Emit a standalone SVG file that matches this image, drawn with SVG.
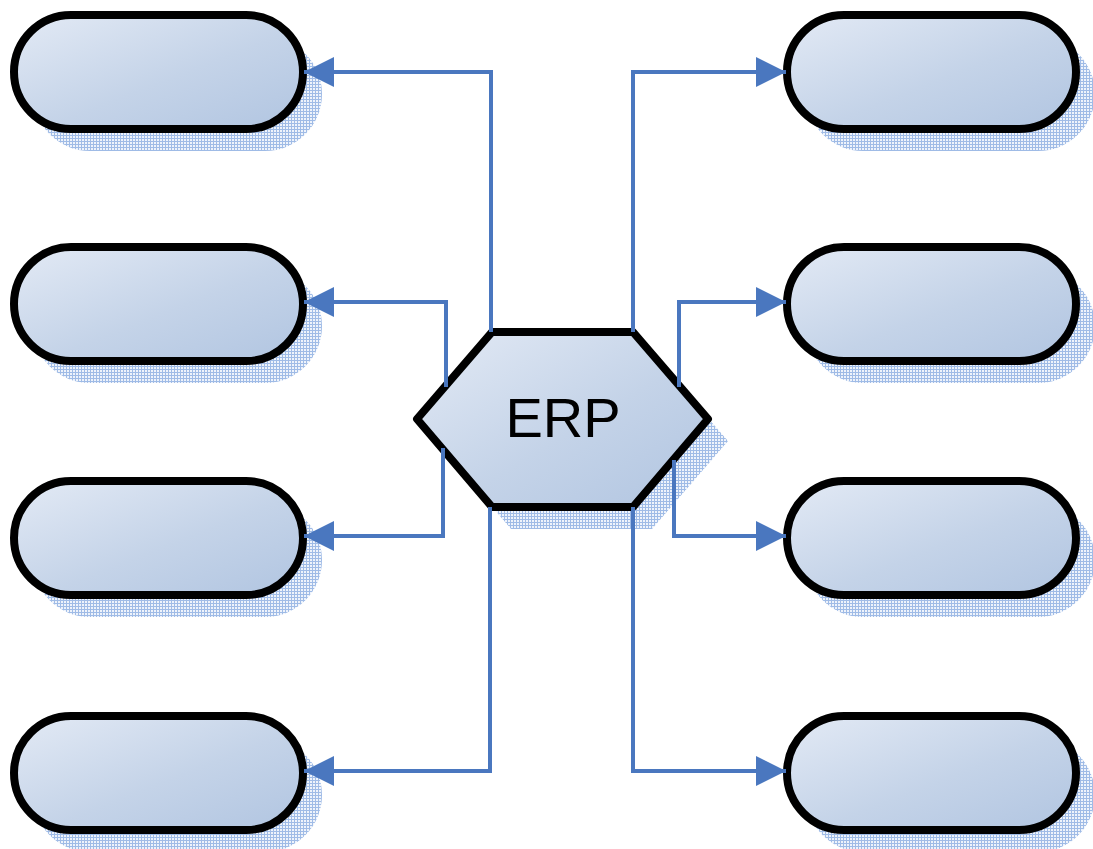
<svg xmlns="http://www.w3.org/2000/svg" width="1093" height="849" viewBox="0 0 1093 849">
  <defs>
    <linearGradient id="fill" x1="0" y1="0" x2="1" y2="1">
      <stop offset="0" stop-color="#e3eaf5"/>
      <stop offset="0.55" stop-color="#c4d3e8"/>
      <stop offset="1" stop-color="#b1c5e1"/>
    </linearGradient>
    <pattern id="mesh" width="3" height="3" patternUnits="userSpaceOnUse">
      <rect width="3" height="3" fill="#eef3fb"/>
      <path d="M0 0.5H3M0.5 0V3" stroke="#9fbbe6" stroke-width="1"/>
    </pattern>
    <marker id="arrow" viewBox="0 0 30 30" refX="30" refY="15" markerWidth="30" markerHeight="30" markerUnits="userSpaceOnUse" orient="auto">
      <path d="M0 0L30 15L0 30Z" fill="#4a77bf"/>
    </marker>
  </defs>
  <style>
    .shadow { fill: url(#mesh); }
    .shape { fill: url(#fill); stroke: #000; stroke-width: 8; stroke-linejoin: round; }
    .conn { fill: none; stroke: #4a77bf; stroke-width: 4; marker-end: url(#arrow); }
    .label { font-family: "Liberation Sans", Arial, sans-serif; font-size: 56px; fill: #000; text-anchor: middle; }
  </style>

  <!-- left column -->
  <g id="node-l1">
    <rect class="shadow" x="33" y="37" width="289" height="114" rx="57"/>
    <rect class="shape" x="14" y="15" width="289" height="114" rx="57"/>
  </g>
  <g id="node-l2">
    <rect class="shadow" x="33" y="269" width="289" height="114" rx="57"/>
    <rect class="shape" x="14" y="247" width="289" height="114" rx="57"/>
  </g>
  <g id="node-l3">
    <rect class="shadow" x="33" y="503" width="289" height="114" rx="57"/>
    <rect class="shape" x="14" y="481" width="289" height="114" rx="57"/>
  </g>
  <g id="node-l4">
    <rect class="shadow" x="33" y="738" width="289" height="114" rx="57"/>
    <rect class="shape" x="14" y="716" width="289" height="114" rx="57"/>
  </g>

  <!-- right column -->
  <g id="node-r1">
    <rect class="shadow" x="806" y="37" width="289" height="114" rx="57"/>
    <rect class="shape" x="787" y="15" width="289" height="114" rx="57"/>
  </g>
  <g id="node-r2">
    <rect class="shadow" x="806" y="269" width="289" height="114" rx="57"/>
    <rect class="shape" x="787" y="247" width="289" height="114" rx="57"/>
  </g>
  <g id="node-r3">
    <rect class="shadow" x="806" y="503" width="289" height="114" rx="57"/>
    <rect class="shape" x="787" y="481" width="289" height="114" rx="57"/>
  </g>
  <g id="node-r4">
    <rect class="shadow" x="806" y="738" width="289" height="114" rx="57"/>
    <rect class="shape" x="787" y="716" width="289" height="114" rx="57"/>
  </g>

  <!-- central hub -->
  <g id="node-erp">
    <polygon class="shadow" points="511,354 652,354 728,441 652,529 511,529 436,441"/>
    <polygon class="shape" points="492,332 633,332 708,419 633,507 492,507 417,419"/>
    <text class="label" x="563" y="437">ERP</text>
  </g>

  <!-- connectors from the hub to each terminal -->
  <g id="connectors">
    <path class="conn" d="M491 332V72H304"/>
    <path class="conn" d="M446 387V302H304"/>
    <path class="conn" d="M443 448V536H304"/>
    <path class="conn" d="M490 507V771H304"/>
    <path class="conn" d="M633 332V72H786"/>
    <path class="conn" d="M679 387V302H786"/>
    <path class="conn" d="M674 460V536H786"/>
    <path class="conn" d="M633 507V771H786"/>
  </g>
</svg>
